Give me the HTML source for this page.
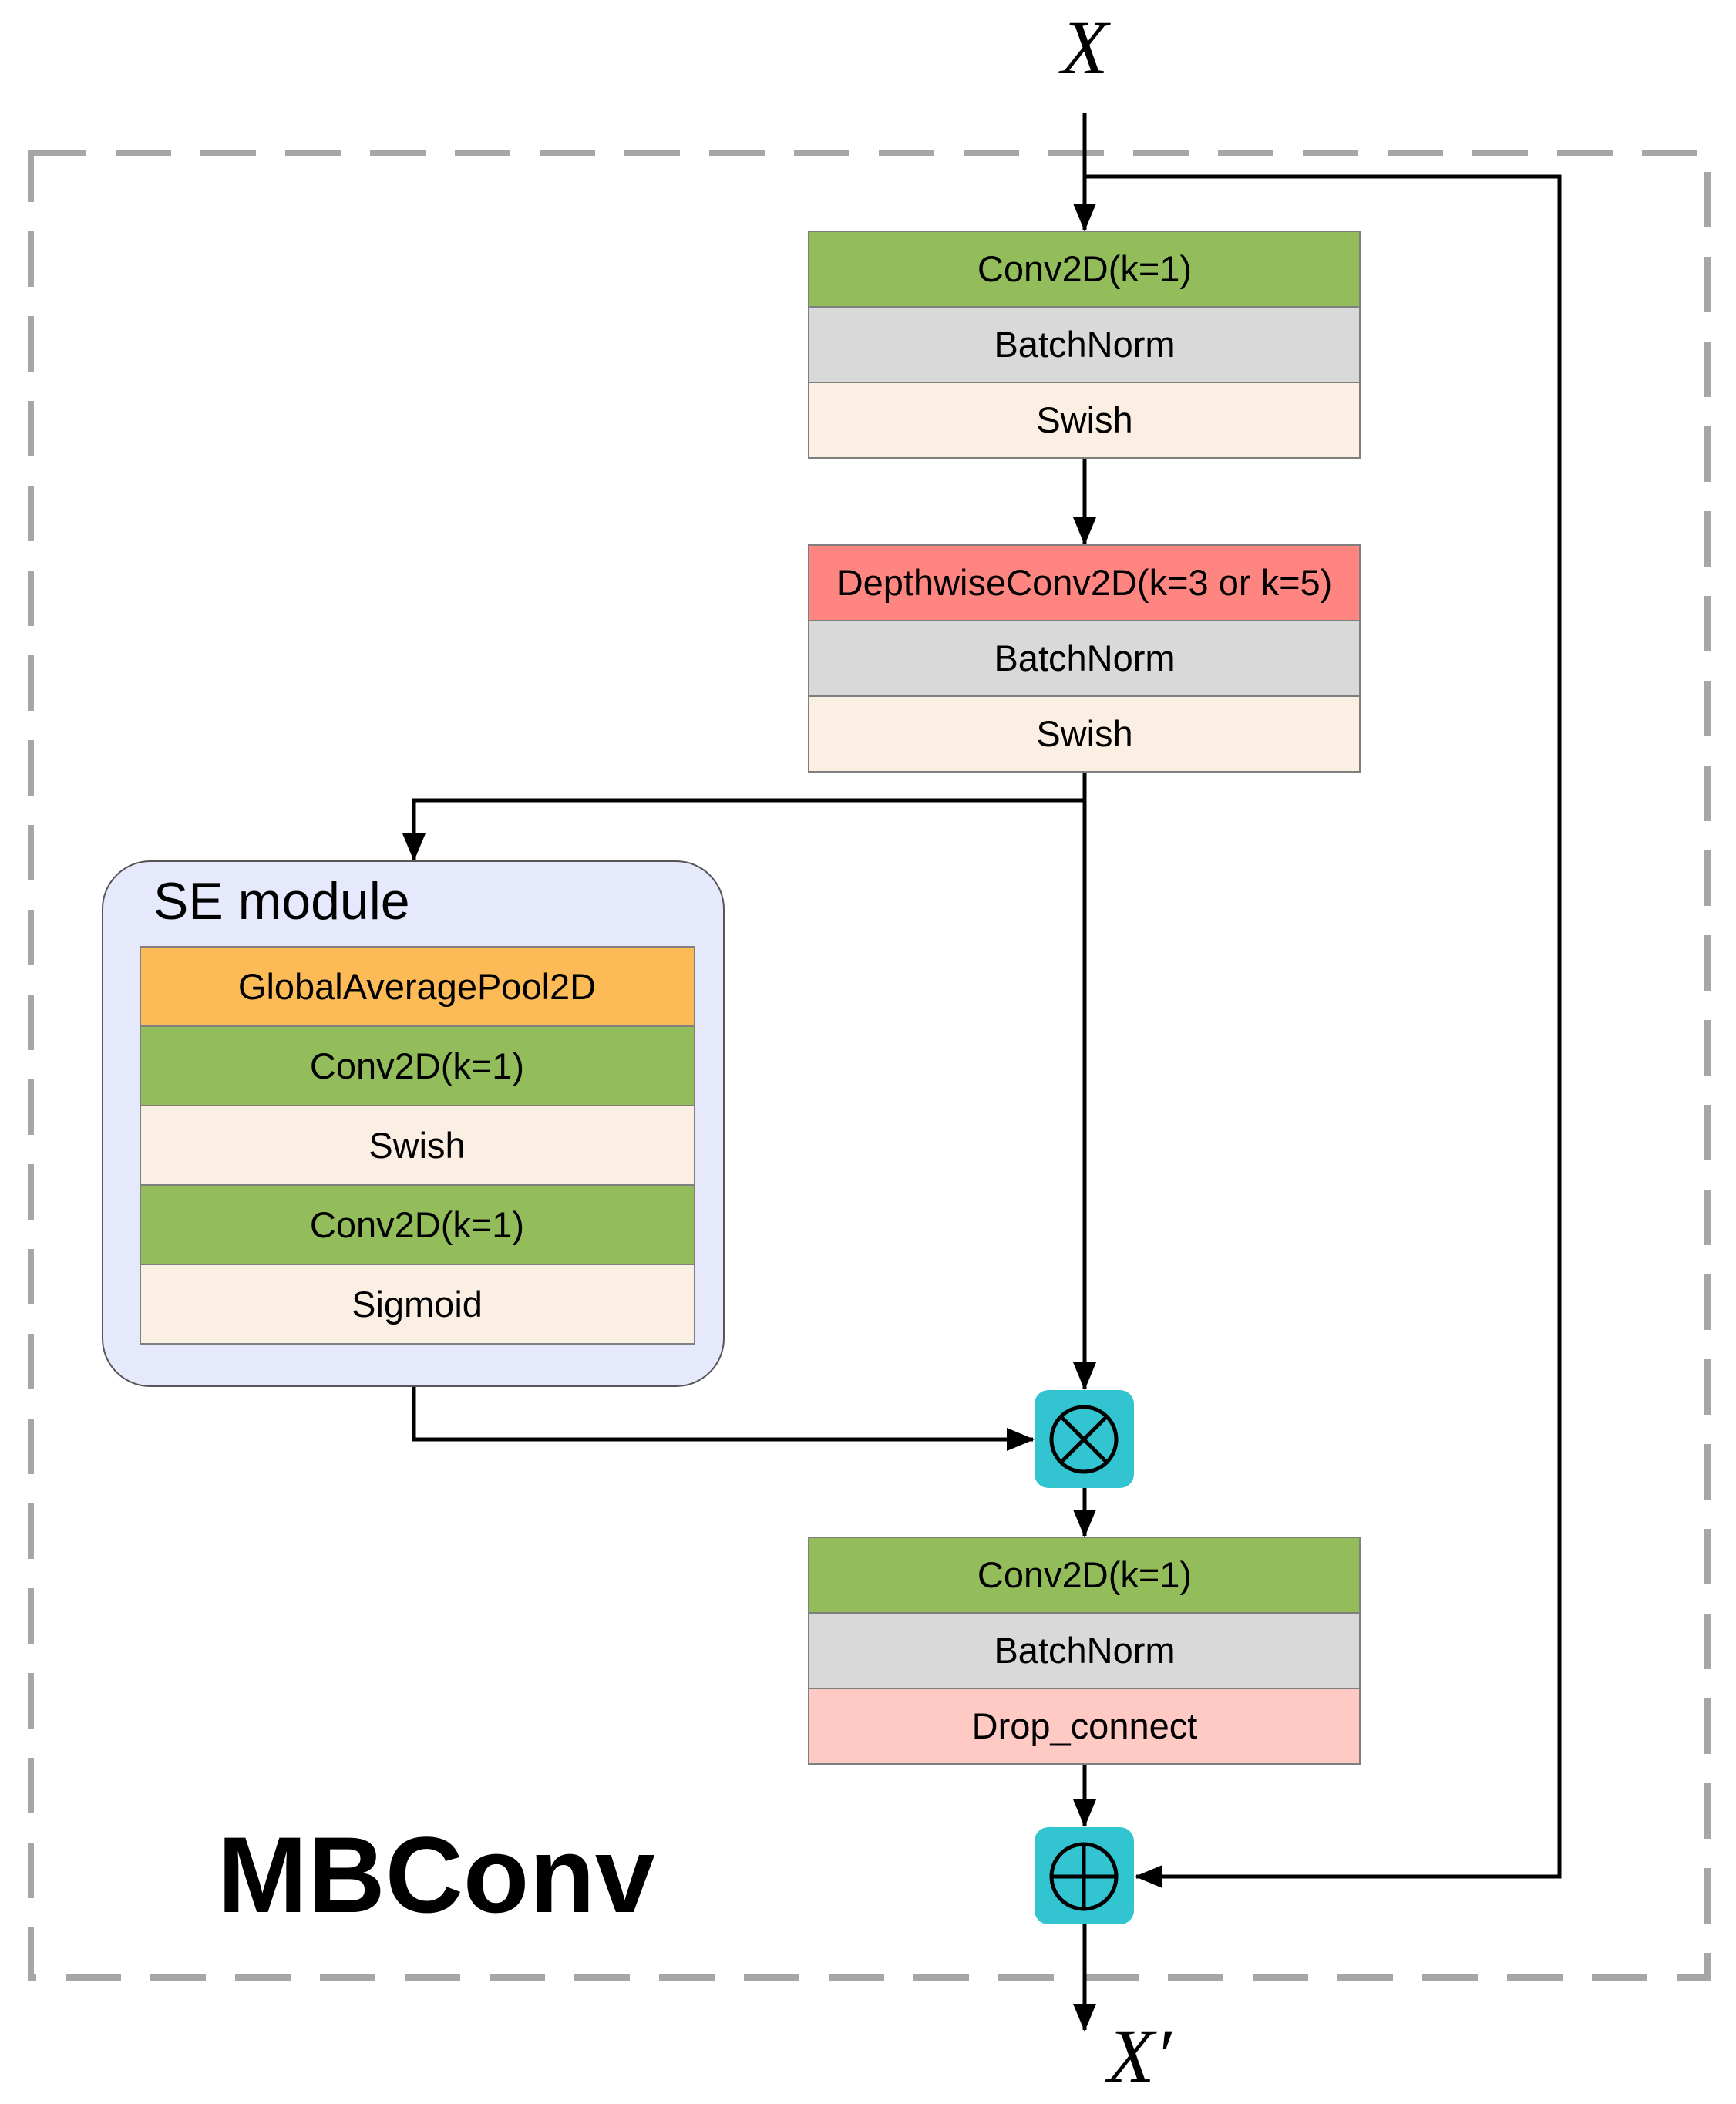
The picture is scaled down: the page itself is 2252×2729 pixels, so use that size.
<!DOCTYPE html>
<html><head><meta charset="utf-8"><style>
html,body{margin:0;padding:0;background:#fff;}
svg{display:block;}
</style></head><body>
<svg width="2252" height="2729" viewBox="0 0 2252 2729" xmlns="http://www.w3.org/2000/svg" style="font-family:'Liberation Sans',sans-serif">
<defs>
<marker id="ah" markerWidth="36" markerHeight="30" refX="34" refY="15" orient="auto" markerUnits="userSpaceOnUse">
<path d="M0,0 L36,15 L0,30 Z" fill="#000"/>
</marker>
</defs>
<rect x="40" y="198" width="2175" height="2367" fill="none" stroke="#a6a6a6" stroke-width="8" stroke-dasharray="72,38"/>
<text x="1407" y="95" style="font-family:'Liberation Serif',serif;font-style:italic;font-size:100px" text-anchor="middle">X</text>
<text x="1478" y="2700" style="font-family:'Liberation Serif',serif;font-style:italic;font-size:100px" text-anchor="middle">X′</text>
<g stroke="#000" stroke-width="5" fill="none">
<line x1="1407" y1="147" x2="1407" y2="298" marker-end="url(#ah)"/>
<polyline points="1407,229 2023,229 2023,2434 1474,2434" marker-end="url(#ah)"/>
<line x1="1407" y1="594" x2="1407" y2="705" marker-end="url(#ah)"/>
<polyline points="1407,1001 1407,1038 537,1038 537,1115" marker-end="url(#ah)"/>
<line x1="1407" y1="1038" x2="1407" y2="1801" marker-end="url(#ah)"/>
<polyline points="537,1798 537,1867 1340,1867" marker-end="url(#ah)"/>
<line x1="1407" y1="1930" x2="1407" y2="1992" marker-end="url(#ah)"/>
<line x1="1407" y1="2288" x2="1407" y2="2368" marker-end="url(#ah)"/>
<line x1="1407" y1="2496" x2="1407" y2="2633" marker-end="url(#ah)"/>
</g>
<g stroke="#7f7f7f" stroke-width="2">
<rect x="1049" y="300" width="715" height="98" fill="#92bd5a"/>
<rect x="1049" y="398" width="715" height="98" fill="#d9d9d9"/>
<rect x="1049" y="496" width="715" height="98" fill="#fbeee2"/>
<rect x="1049" y="707" width="715" height="98" fill="#ff8680"/>
<rect x="1049" y="805" width="715" height="98" fill="#d9d9d9"/>
<rect x="1049" y="903" width="715" height="98" fill="#fbeee2"/>
<rect x="1049" y="1994" width="715" height="98" fill="#92bd5a"/>
<rect x="1049" y="2092" width="715" height="98" fill="#d9d9d9"/>
<rect x="1049" y="2190" width="715" height="98" fill="#ffc9c4"/>
<rect x="133" y="1117" width="806" height="681" rx="62" fill="#e6e8fb" stroke="#555"/>
<rect x="182" y="1228" width="719" height="103" fill="#fdbb57"/>
<rect x="182" y="1331" width="719" height="103" fill="#92bd5a"/>
<rect x="182" y="1434" width="719" height="103" fill="#fbeee2"/>
<rect x="182" y="1537" width="719" height="103" fill="#92bd5a"/>
<rect x="182" y="1640" width="719" height="103" fill="#fbeee2"/>
</g>
<g style="font-size:47px" text-anchor="middle" fill="#000">
<text x="1407" y="365">Conv2D(k=1)</text>
<text x="1407" y="463">BatchNorm</text>
<text x="1407" y="561">Swish</text>
<text x="1407" y="772">DepthwiseConv2D(k=3 or k=5)</text>
<text x="1407" y="870">BatchNorm</text>
<text x="1407" y="968">Swish</text>
<text x="1407" y="2059">Conv2D(k=1)</text>
<text x="1407" y="2157">BatchNorm</text>
<text x="1407" y="2255">Drop_connect</text>
<text x="541" y="1296">GlobalAveragePool2D</text>
<text x="541" y="1399">Conv2D(k=1)</text>
<text x="541" y="1502">Swish</text>
<text x="541" y="1605">Conv2D(k=1)</text>
<text x="541" y="1708">Sigmoid</text>
</g>
<text x="199" y="1192" style="font-size:68px">SE module</text>
<text x="282" y="2480" style="font-size:140px;font-weight:bold">MBConv</text>
<rect x="1342" y="1803" width="129" height="127" rx="18" fill="#33c4d2"/>
<circle cx="1406" cy="1867" r="42" fill="none" stroke="#000" stroke-width="5"/>
<line x1="1376" y1="1837" x2="1436" y2="1897" stroke="#000" stroke-width="5"/>
<line x1="1436" y1="1837" x2="1376" y2="1897" stroke="#000" stroke-width="5"/>
<rect x="1342" y="2370" width="129" height="126" rx="18" fill="#33c4d2"/>
<circle cx="1406" cy="2434" r="42" fill="none" stroke="#000" stroke-width="5"/>
<line x1="1364" y1="2434" x2="1448" y2="2434" stroke="#000" stroke-width="5"/>
<line x1="1406" y1="2392" x2="1406" y2="2476" stroke="#000" stroke-width="5"/>
</svg>
</body></html>
